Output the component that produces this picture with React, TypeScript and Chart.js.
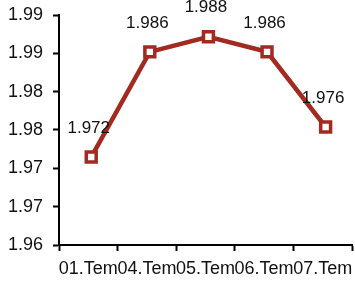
import React, { useEffect, useRef } from "react";
import { Chart, registerables } from "chart.js";

Chart.register(...registerables);

const categories = ["01.Tem", "04.Tem", "05.Tem", "06.Tem", "07.Tem"];
const values = [1.972, 1.986, 1.988, 1.986, 1.976];
const valueLabels = ["1.972", "1.986", "1.988", "1.986", "1.976"];
const yTickLabels = ["1.96", "1.97", "1.97", "1.98", "1.98", "1.99", "1.99"];
const yMin = 1.9603;
const yMax = 1.9909;
const markerShift = 0.05; // markers sit slightly right of category centres

const FONT = "'Liberation Sans', Arial, sans-serif";

const labelPlugin = {
  id: "valueLabels",
  afterDatasetsDraw(chart: any) {
    const ctx = chart.ctx;
    const meta = chart.getDatasetMeta(0);
    ctx.save();
    ctx.font = `17px ${FONT}`;
    ctx.fillStyle = "#111";
    ctx.textAlign = "center";
    ctx.textBaseline = "middle";
    meta.data.forEach((pt: any, i: number) => {
      ctx.fillText(valueLabels[i], pt.x - 2.5, pt.y - 29);
    });
    ctx.restore();
  },
};

export default function App() {
  const ref = useRef<HTMLCanvasElement>(null);
  useEffect(() => {
    if (!ref.current) return;
    const chart = new Chart(ref.current, {
      type: "line",
      data: {
        labels: categories,
        datasets: [
          {
            data: values.map((v, i) => ({ x: i, y: v })),
            xAxisID: "xp",
            borderColor: "#A32A20",
            borderWidth: 4.5,
            pointStyle: "rect",
            pointRadius: 7,
            pointBorderWidth: 3.5,
            pointBackgroundColor: "#ffffff",
            pointBorderColor: "#A32A20",
            tension: 0,
            clip: false,
          },
        ],
      },
      options: {
        animation: false,
        responsive: false,
        maintainAspectRatio: false,
        layout: { autoPadding: false, padding: { top: 15, right: 3, left: 0, bottom: 0 } },
        plugins: { legend: { display: false }, tooltip: { enabled: false } },
        scales: {
          x: {
            type: "category",
            offset: true,
            grid: { offset: true, drawOnChartArea: false, tickLength: 6, color: "#000", tickWidth: 2 },
            border: { display: true, color: "#000", width: 2 },
            ticks: { color: "#111", font: { family: FONT, size: 18 }, padding: 7, maxRotation: 0, autoSkip: false },
            afterFit(scale: any) {
              scale.height = 37;
              scale.paddingLeft = 0;
              scale.paddingRight = 0;
            },
          },
          xp: {
            type: "linear",
            display: false,
            min: -0.5 - markerShift,
            max: categories.length - 0.5 - markerShift,
          },
          y: {
            min: yMin,
            max: yMax,
            grid: { drawOnChartArea: false, tickLength: 6, color: "#000", tickWidth: 2 },
            border: { display: true, color: "#000", width: 2 },
            afterBuildTicks(scale: any) {
              scale.ticks = yTickLabels.map((_, i) => ({
                value: yMin + ((yMax - yMin) * i) / (yTickLabels.length - 1),
              }));
            },
            ticks: {
              color: "#111",
              font: { family: FONT, size: 18 },
              padding: 10,
              callback: (_v: any, i: number) => yTickLabels[i],
            },
            afterFit(scale: any) {
              scale.width = 59;
              scale.paddingTop = 0;
              scale.paddingBottom = 0;
            },
          },
        },
      },
      plugins: [labelPlugin],
    });
    return () => chart.destroy();
  }, []);
  return (
    <div style={{ position: "fixed", left: 0, top: 0, width: 355, height: 282, background: "#fff" }}>
      <canvas ref={ref} width={355} height={282} style={{ width: 355, height: 282 }} />
    </div>
  );
}
